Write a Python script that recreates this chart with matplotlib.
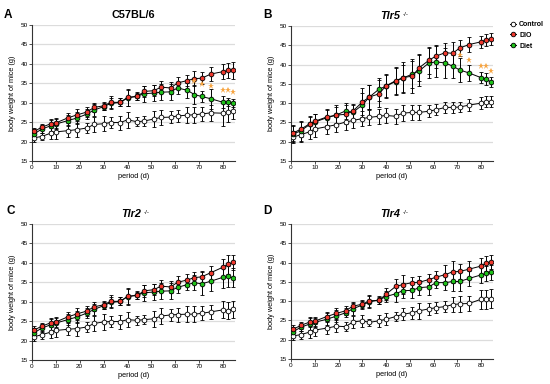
import matplotlib
matplotlib.use("Agg")
import matplotlib.pyplot as plt
from matplotlib.lines import Line2D

plt.rcParams['font.family'] = ['Liberation Sans', 'DejaVu Sans']

days = [1, 4, 8, 10, 15, 19, 23, 26, 30, 33, 37, 40, 44, 47, 51, 54, 58, 61, 65, 68, 71, 75, 80, 82, 84]
groups = ["Control", "DIO", "Diet"]

# Panel A: C57BL/6
a_control = [21.0, 21.3, 22.2, 22.5, 22.8, 23.1, 23.5, 24.4, 24.6, 24.9, 24.9, 25.6, 25.1, 25.3, 25.8, 26.2, 26.3, 26.6, 26.8, 26.9, 27.1, 27.4, 27.3, 27.6, 27.9]
a_dio     = [22.6, 23.7, 24.6, 24.8, 26.1, 26.9, 27.6, 28.8, 29.2, 30.1, 30.1, 31.4, 31.6, 32.9, 33.1, 34.0, 33.8, 35.1, 35.7, 36.2, 36.3, 37.4, 38.0, 38.3, 38.4]
a_diet    = [22.0, 23.2, 24.1, 24.5, 25.4, 26.1, 27.1, 28.1, 29.0, 29.8, 30.1, 31.2, 31.7, 32.3, 32.5, 32.7, 32.8, 33.8, 33.2, 32.1, 31.6, 31.0, 30.1, 30.1, 29.9]
a_control_err = [1.2, 1.0, 1.5, 1.8, 1.5, 1.8, 1.2, 2.0, 2.0, 1.5, 1.8, 2.0, 1.2, 1.2, 2.0, 2.0, 1.5, 1.5, 2.0, 2.0, 1.8, 2.0, 3.2, 2.5, 2.0]
a_dio_err     = [1.0, 0.8, 1.2, 1.2, 1.2, 1.5, 1.2, 1.2, 1.0, 1.5, 1.0, 2.2, 1.0, 1.5, 1.5, 1.5, 1.5, 1.5, 1.5, 2.0, 1.5, 1.8, 2.0, 2.0, 2.2]
a_diet_err    = [1.2, 1.0, 1.5, 1.2, 1.5, 1.5, 1.2, 1.5, 1.0, 1.5, 1.0, 2.0, 1.0, 2.0, 2.0, 2.0, 2.0, 1.5, 2.0, 2.5, 1.5, 2.5, 1.5, 1.0, 1.0]
a_star_x = [68, 71, 75, 80, 82, 84]
a_star_y = [35.6, 34.7, 34.3, 33.2, 33.2, 32.7]

# Panel B: Tlr5 -/-
b_control = [21.2, 21.8, 22.6, 23.3, 23.9, 24.4, 25.1, 25.5, 26.0, 26.3, 26.6, 26.8, 26.6, 27.4, 27.6, 27.6, 27.9, 28.3, 28.9, 28.9, 29.0, 29.5, 30.0, 30.4, 30.4]
b_dio     = [22.3, 23.2, 24.7, 25.3, 26.4, 26.9, 27.1, 27.9, 30.3, 31.6, 32.4, 34.5, 35.8, 36.6, 37.0, 39.2, 41.1, 42.2, 43.1, 42.9, 44.3, 45.2, 45.9, 46.4, 46.6]
b_diet    = [22.0, 22.8, 24.5, 25.1, 26.2, 26.9, 28.0, 27.6, 29.5, 31.6, 33.6, 34.4, 35.6, 36.5, 37.5, 38.4, 40.4, 40.7, 40.4, 39.6, 38.6, 37.8, 36.6, 36.3, 35.5]
b_control_err = [1.5, 1.8, 2.0, 2.0, 2.0, 2.0, 2.0, 2.0, 2.0, 2.0, 2.0, 2.0, 2.0, 2.0, 2.0, 2.0, 1.5, 1.5, 1.5, 1.5, 1.2, 1.5, 1.5, 1.5, 1.5]
b_dio_err     = [2.0, 2.0, 2.0, 2.0, 2.0, 2.5, 2.5, 2.0, 3.5, 3.0, 3.5, 3.0, 3.5, 4.0, 4.5, 3.5, 3.5, 3.0, 2.5, 3.0, 2.0, 2.0, 1.5, 1.5, 1.5]
b_diet_err    = [2.0, 2.5, 2.0, 2.0, 2.0, 2.0, 2.0, 2.0, 3.0, 3.0, 3.0, 3.0, 3.5, 3.5, 3.5, 4.0, 4.0, 4.0, 4.0, 3.0, 3.0, 2.0, 1.5, 1.5, 1.2]
b_star_x = [71, 75, 80, 82, 84]
b_star_y = [42.4, 41.2, 39.6, 39.6, 38.3]

# Panel C: Tlr2 -/-
c_control = [21.0, 21.5, 22.2, 22.6, 22.9, 23.1, 23.5, 24.4, 24.8, 24.9, 24.9, 25.4, 25.2, 25.4, 25.6, 26.3, 26.6, 26.7, 26.8, 26.8, 27.0, 27.4, 27.9, 27.7, 28.1]
c_dio     = [22.7, 23.7, 24.6, 24.8, 26.1, 26.9, 27.6, 28.7, 29.2, 30.1, 30.1, 31.4, 31.6, 32.8, 33.1, 34.0, 33.8, 35.0, 35.6, 36.2, 36.4, 37.5, 38.9, 39.6, 40.1]
c_diet    = [22.0, 23.2, 24.1, 24.5, 25.4, 26.1, 27.1, 28.0, 29.0, 29.8, 30.1, 31.3, 31.7, 32.3, 32.5, 32.7, 32.8, 33.7, 34.4, 34.9, 34.6, 35.3, 36.3, 36.5, 36.2]
c_control_err = [1.2, 1.0, 1.5, 1.8, 1.5, 1.8, 1.2, 2.0, 2.0, 1.5, 1.8, 2.0, 1.2, 1.2, 2.0, 2.0, 1.5, 1.8, 2.0, 2.0, 1.8, 1.8, 2.2, 2.2, 2.2]
c_dio_err     = [1.0, 0.8, 1.2, 1.2, 1.2, 1.5, 1.2, 1.2, 1.0, 1.5, 1.0, 2.2, 1.0, 1.5, 1.5, 1.5, 1.5, 1.5, 1.5, 1.5, 1.5, 1.8, 2.2, 2.4, 2.0]
c_diet_err    = [1.2, 1.0, 1.5, 1.2, 1.5, 1.5, 1.2, 1.5, 1.0, 1.5, 1.0, 2.0, 1.0, 2.0, 2.0, 2.0, 2.0, 1.5, 1.5, 2.0, 3.0, 2.5, 2.8, 2.6, 2.5]

# Panel D: Tlr4 -/-
d_control = [21.0, 21.3, 22.0, 22.5, 23.0, 23.5, 23.4, 24.6, 24.9, 24.5, 24.9, 25.3, 26.0, 26.6, 27.0, 27.5, 28.0, 28.3, 28.6, 29.1, 29.3, 29.4, 30.5, 30.5, 30.6]
d_dio     = [22.7, 23.7, 24.6, 24.8, 26.0, 26.8, 27.5, 28.7, 29.2, 30.1, 30.2, 31.8, 33.8, 34.3, 34.8, 34.9, 35.6, 36.2, 36.9, 37.6, 37.7, 38.3, 39.1, 39.8, 40.2]
d_diet    = [22.1, 23.2, 24.1, 24.5, 25.3, 26.1, 27.0, 28.0, 29.0, 29.8, 30.3, 31.2, 31.9, 32.7, 32.8, 33.5, 33.7, 34.8, 34.8, 35.1, 35.1, 35.9, 36.8, 37.2, 37.5]
d_control_err = [1.0, 1.0, 1.5, 1.5, 1.5, 1.5, 1.2, 1.5, 1.5, 1.0, 1.5, 1.5, 1.2, 1.5, 1.5, 2.0, 1.5, 1.5, 1.5, 2.0, 2.0, 2.0, 2.5, 2.5, 2.5]
d_dio_err     = [1.0, 0.8, 1.2, 1.2, 1.2, 1.5, 1.2, 1.2, 1.0, 1.5, 1.0, 1.5, 2.0, 2.5, 1.5, 1.5, 1.5, 1.5, 2.5, 2.8, 2.0, 2.0, 2.0, 2.0, 1.8]
d_diet_err    = [1.2, 1.0, 1.5, 1.2, 1.5, 1.5, 1.2, 1.5, 1.0, 1.5, 1.0, 1.5, 2.0, 2.0, 2.0, 2.0, 2.0, 1.5, 2.0, 2.5, 2.5, 2.0, 2.0, 2.0, 2.0]

y_ticks = [15, 20, 25, 30, 35, 40, 45, 50]
x_ticks = [0, 10, 20, 30, 40, 50, 60, 70, 80]

colors = {"Control": "white", "DIO": "#f0392e", "Diet": "#1fc21a"}
draw_order = ["Control", "Diet", "DIO"]
star_color = "#f7a440"

fig = plt.figure(figsize=(5.5, 3.84), dpi=100)
W, H = 550, 384

def px_axes(l, t, r, b):
    return fig.add_axes([l / W, 1 - b / H, (r - l) / W, (b - t) / H])

panels = [
    dict(rect=(32, 25, 235, 161), letter="A", letter_xy=(4, 18), title="C57BL/6", sup=None,
         data=(a_control, a_dio, a_diet), err=(a_control_err, a_dio_err, a_diet_err),
         stars=(a_star_x, a_star_y)),
    dict(rect=(291, 26, 493, 161), letter="B", letter_xy=(263, 18), title="Tlr5", sup="-/-",
         data=(b_control, b_dio, b_diet), err=(b_control_err, b_dio_err, b_diet_err),
         stars=(b_star_x, b_star_y)),
    dict(rect=(32, 224, 235, 360), letter="C", letter_xy=(6, 214), title="Tlr2", sup="-/-",
         data=(c_control, c_dio, c_diet), err=(c_control_err, c_dio_err, c_diet_err),
         stars=None),
    dict(rect=(291, 224, 493, 359), letter="D", letter_xy=(263, 214), title="Tlr4", sup="-/-",
         data=(d_control, d_dio, d_diet), err=(d_control_err, d_dio_err, d_diet_err),
         stars=None),
]

for p in panels:
    ax = px_axes(*p["rect"])
    ax.set_xlim(0, 85)
    ax.set_ylim(15, 50)
    for yv in y_ticks[1:]:
        ax.axhline(yv, color="#dcdcdc", lw=0.9, zorder=0)
    series = dict(zip(groups, zip(p["data"], p["err"])))
    for name in draw_order:
        vals, errs = series[name]
        ax.errorbar(days, vals, yerr=errs, fmt="-o", color="black", lw=0.7,
                    elinewidth=0.7, capsize=1.6, capthick=0.7,
                    markersize=3.4, markerfacecolor=colors[name],
                    markeredgecolor="black", markeredgewidth=0.6, zorder=3)
    if p["stars"] is not None:
        sx, sy = p["stars"]
        ax.plot(sx, sy, linestyle="none", marker="*", markersize=5,
                color=star_color, markeredgewidth=0, zorder=4, clip_on=False)
    for s in ["top", "right"]:
        ax.spines[s].set_visible(False)
    for s in ["left", "bottom"]:
        ax.spines[s].set_linewidth(0.8)
        ax.spines[s].set_color("#333333")
    ax.set_xticks(x_ticks)
    ax.set_yticks(y_ticks)
    ax.tick_params(axis="both", labelsize=4.6, length=2, width=0.6, pad=1, color="#333333")
    ax.set_xlabel("period (d)", fontsize=5.3, labelpad=2)
    ax.set_ylabel("body weight of mice (g)", fontsize=5.3, labelpad=3)
    cx = 0.5
    if p["sup"] is None:
        ax.text(cx, 1.075, p["title"], transform=ax.transAxes, ha="center", va="center",
                fontsize=7.8, fontweight="bold")
    else:
        t = ax.text(cx - 0.01, 1.075, p["title"], transform=ax.transAxes, ha="center",
                    va="center", fontsize=7.8, fontweight="bold", style="italic")
        ax.annotate(p["sup"], xy=(1, 1), xycoords=t, xytext=(2, -1),
                    textcoords="offset points", ha="left", va="top", fontsize=4.5)
    lx, ly = p["letter_xy"]
    fig.text(lx / W, 1 - ly / H, p["letter"], fontsize=8.5, fontweight="bold",
             ha="left", va="baseline")

handles = [Line2D([0], [0], color="black", lw=0.7, marker="o", markersize=3.3,
                  markerfacecolor=colors[g], markeredgecolor="black", markeredgewidth=0.6)
           for g in groups]
leg = fig.legend(handles, groups, loc="upper left", bbox_to_anchor=(510 / W, 1 - 21 / H),
                 frameon=False, handlelength=0.9, handletextpad=0.4, labelspacing=0.55,
                 prop={"size": 5, "weight": "bold"}, borderaxespad=0, borderpad=0)

fig.savefig("out.png", dpi=100)
